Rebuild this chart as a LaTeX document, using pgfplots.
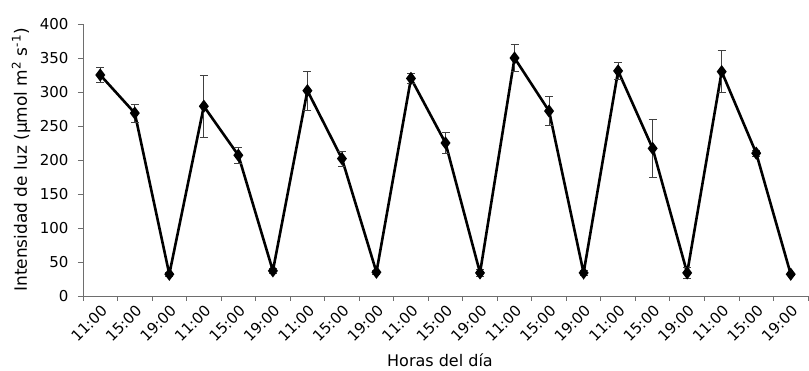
\documentclass[border=0pt]{standalone}
\usepackage{pgfplots}
\pgfplotsset{compat=1.18}
\usepackage{fontspec}
\setmainfont{DejaVu Sans}
\definecolor{axisgray}{RGB}{110,110,110}
\pgfplotstableread{
x y e
0 325 11
1 269 13
2 32 3
3 279 46
4 207 12
5 37 3
6 302 29
7 202 11
8 35 3
9 320 8
10 225 15
11 34 5
12 350 20
13 272 21
14 34 4
15 331 12
16 217 43
17 34 8
18 330 31
19 210 4
20 32 1
}\datatable
\begin{document}
\begin{tikzpicture}
\path (-83pt,-75pt) rectangle (726pt,296pt);
\begin{axis}[
  scale only axis, width=725pt, height=272pt,
  xmin=-0.5, xmax=20.5, ymin=0, ymax=400,
  axis x line*=bottom, axis y line*=left,
  axis line style={axisgray, line width=0.9pt},
  xtick={0,...,20},
  xticklabels={11:00,15:00,19:00,11:00,15:00,19:00,11:00,15:00,19:00,11:00,15:00,19:00,11:00,15:00,19:00,11:00,15:00,19:00,11:00,15:00,19:00},
  major x tick style={draw=none},
  minor xtick={-0.5,0.5,...,20.5},
  minor tick length=5pt,
  ytick={0,50,...,400},
  tick align=outside,
  major tick length=5pt,
  tick style={axisgray, line width=0.9pt},
  /pgf/number format/assume math mode=true,
  tick label style={font=\fontsize{15}{18}\selectfont},
  xticklabel style={rotate=45, anchor=north east, inner sep=2pt},
  yticklabel style={xshift=-6pt},
  ylabel={Intensidad de luz (µmol m\textsuperscript{2} s\textsuperscript{-1})},
  ylabel style={font=\fontsize{17}{20}\selectfont, at={(axis description cs:-0.0855,0.5)}, anchor=center, rotate=0},
  xlabel={Horas del día},
  xlabel style={font=\fontsize{16}{19}\selectfont, at={(axis description cs:0.4924,-0.261)}, anchor=base},
  clip=false,
]
\addplot[black, line width=2.6pt, mark=diamond*, mark size=4.5pt,
  error bars/.cd, y dir=both, y explicit,
  error bar style={black!75, line width=0.7pt},
  error mark options={rotate=90, mark size=4pt, black!75, line width=0.7pt}]
  table[x=x, y=y, y error=e] {\datatable};
\end{axis}
\end{tikzpicture}
\end{document}
